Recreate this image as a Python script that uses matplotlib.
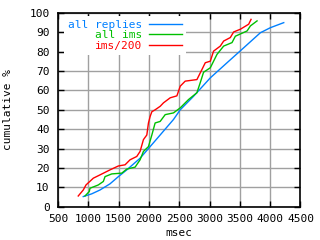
import matplotlib
matplotlib.use("Agg")
import matplotlib.pyplot as plt

# data
all_replies_x = [918, 1057, 1194, 1360, 1497, 1636, 1855, 2021, 2186, 2406, 2517, 2737, 3013, 3289, 3563, 3839, 4004, 4224]
all_replies_y = [5.2, 6.6, 8.6, 11.8, 15.5, 19.0, 25.0, 31.0, 37.0, 45.0, 50.0, 57.0, 66.5, 74.3, 82.0, 89.8, 92.4, 95.0]

all_ims_x = [946, 1017, 1029, 1166, 1249, 1277, 1388, 1553, 1636, 1773, 1855, 1910, 1993, 2049, 2103, 2186, 2269, 2406,
             2517, 2654, 2792, 2847, 2902, 3013, 3123, 3233, 3371, 3426, 3619, 3674, 3784]
all_ims_y = [5.5, 7.8, 9.5, 11.2, 13.0, 15.5, 16.9, 17.3, 19.4, 20.4, 24.2, 28.5, 31.0, 37.0, 43.2, 44.0, 47.5, 48.4,
             51.0, 55.3, 58.8, 64.0, 69.4, 71.7, 78.6, 82.9, 84.7, 88.0, 90.7, 93.3, 95.9]

ims200_x = [835, 918, 963, 1084, 1194, 1360, 1497, 1607, 1690, 1800, 1855, 1910, 1966, 1993, 2021, 2049, 2103, 2186,
            2241, 2352, 2462, 2517, 2599, 2792, 2875, 2930, 3013, 3067, 3178, 3233, 3343, 3398, 3509, 3646, 3685]
ims200_y = [5.5, 8.6, 11.2, 14.7, 16.4, 19.0, 21.0, 21.6, 24.2, 25.9, 28.5, 34.6, 37.0, 43.2, 46.6, 49.0, 50.0, 51.8,
            53.6, 56.2, 57.2, 62.2, 64.8, 65.6, 70.8, 74.3, 75.1, 80.3, 82.9, 85.5, 87.3, 90.2, 91.6, 94.2, 96.7]

series_labels = ["all replies", "all ims", "ims/200"]
series_colors = ["#0080ff", "#00c000", "#ff0000"]

x_ticks = [500, 1000, 1500, 2000, 2500, 3000, 3500, 4000, 4500]
y_ticks = [0, 10, 20, 30, 40, 50, 60, 70, 80, 90, 100]

plt.rcParams['font.family'] = ['DejaVu Sans Mono']
fig = plt.figure(figsize=(3.2, 2.4), dpi=100)
ax = fig.add_axes([0.181, 0.139, 0.758, 0.807])

for xs, ys, lab, col in zip([all_replies_x, all_ims_x, ims200_x],
                            [all_replies_y, all_ims_y, ims200_y],
                            series_labels, series_colors):
    ax.plot(xs, ys, color=col, lw=1.0, label=lab)

ax.set_xlim(500, 4500)
ax.set_ylim(0, 100)
ax.set_xticks(x_ticks)
ax.set_yticks(y_ticks)
ax.tick_params(direction='in', length=4, width=1, top=True, right=True, labelsize=8)
ax.tick_params(axis='x', pad=5)
ax.tick_params(axis='y', pad=6)
ax.grid(True, color='#a0a0a0', lw=1)
ax.set_axisbelow(True)
for s in ax.spines.values():
    s.set_linewidth(1.2)
ax.set_xlabel("msec", fontsize=8, labelpad=3)
ax.set_ylabel("cumulative %", fontsize=8, labelpad=12)

leg = ax.legend(loc='upper left', bbox_to_anchor=(0.025, 0.985), markerfirst=False, labelcolor='linecolor',
                frameon=True, fontsize=8, handlelength=3.0, handletextpad=0.6, borderpad=0.35,
                labelspacing=0.05, borderaxespad=0.0, fancybox=False)
leg.get_frame().set_edgecolor('none')
leg.get_frame().set_facecolor('white')
leg.get_frame().set_alpha(1)
for t in leg.get_texts():
    t.set_ha('right')

fig.savefig("out.png", dpi=100)
